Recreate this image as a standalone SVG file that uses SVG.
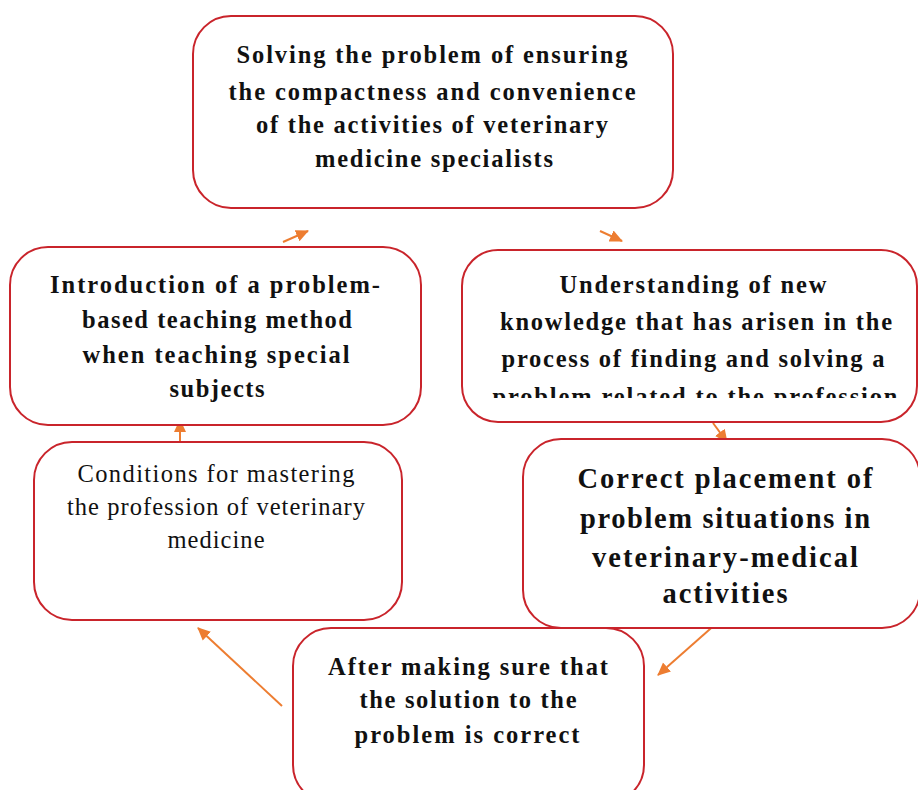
<svg xmlns="http://www.w3.org/2000/svg" width="918" height="790" viewBox="0 0 918 790">
<style>
.box{fill:#fff;stroke:#c9242b;stroke-width:2}
.t{font-family:"Liberation Serif","Times New Roman",serif;font-weight:bold;font-size:24.5px;fill:#111;text-anchor:middle}
.r{font-weight:normal}
.big{font-size:28.5px}
.c{stroke:#ed7d31;stroke-width:2;fill:none}
</style>
<defs>
<marker id="ah" markerUnits="userSpaceOnUse" markerWidth="14" markerHeight="14" refX="12" refY="7" orient="auto">
<path d="M0,1 L13,7 L0,13 Z" fill="#ed7d31"/>
</marker>
<clipPath id="clipR"><rect x="462" y="250" width="456" height="148"/></clipPath>
</defs>
<rect width="918" height="790" fill="#fff"/>
<g id="connectors">
<line class="c" x1="283" y1="242" x2="308" y2="231" marker-end="url(#ah)"/>
<line class="c" x1="600" y1="231" x2="622" y2="241" marker-end="url(#ah)"/>
<line class="c" x1="713" y1="423" x2="727" y2="442" marker-end="url(#ah)"/>
<line class="c" x1="180" y1="441" x2="180" y2="420" marker-end="url(#ah)"/>
<line class="c" x1="282" y1="706" x2="198" y2="628" marker-end="url(#ah)"/>
<line class="c" x1="718" y1="622" x2="658" y2="675" marker-end="url(#ah)"/>
</g>
<g id="n-top">
<rect class="box" x="193" y="16" width="480" height="192" rx="38"/>
<text class="t" x="432" y="63" textLength="391" lengthAdjust="spacing">Solving the problem of ensuring</text>
<text class="t" x="432" y="100" textLength="407" lengthAdjust="spacing">the compactness and convenience</text>
<text class="t" x="432" y="133" textLength="352" lengthAdjust="spacing">of the activities of veterinary</text>
<text class="t" x="434" y="167" textLength="238" lengthAdjust="spacing">medicine specialists</text>
</g>
<g id="n-intro">
<rect class="box" x="10" y="247" width="411" height="178" rx="38"/>
<text class="t" x="215" y="293" textLength="330" lengthAdjust="spacing">Introduction of a problem-</text>
<text class="t" x="217" y="328" textLength="270" lengthAdjust="spacing">based teaching method</text>
<text class="t" x="216" y="363" textLength="267" lengthAdjust="spacing">when teaching special</text>
<text class="t" x="217" y="397" textLength="95" lengthAdjust="spacing">subjects</text>
</g>
<g id="n-understanding">
<rect class="box" x="462" y="250" width="455" height="172" rx="36"/>
<g clip-path="url(#clipR)">
<text class="t" x="693" y="293" textLength="267" lengthAdjust="spacing">Understanding of new</text>
<text class="t" x="696" y="330" textLength="392" lengthAdjust="spacing">knowledge that has arisen in the</text>
<text class="t" x="693" y="367" textLength="383" lengthAdjust="spacing">process of finding and solving a</text>
<text class="t" x="695" y="405" textLength="405" lengthAdjust="spacing">problem related to the profession</text>
</g>
</g>
<g id="n-conditions">
<rect class="box" x="34" y="442" width="368" height="178" rx="38"/>
<text class="t r" x="216" y="482" textLength="277" lengthAdjust="spacing">Conditions for mastering</text>
<text class="t r" x="216" y="515" textLength="298" lengthAdjust="spacing">the profession of veterinary</text>
<text class="t r" x="216" y="548" textLength="97" lengthAdjust="spacing">medicine</text>
</g>
<g id="n-correct">
<rect class="box" x="523" y="439" width="397" height="189" rx="38"/>
<text class="t big" x="725" y="488" textLength="295" lengthAdjust="spacing">Correct placement of</text>
<text class="t big" x="725" y="528" textLength="290" lengthAdjust="spacing">problem situations in</text>
<text class="t big" x="725" y="567" textLength="266" lengthAdjust="spacing">veterinary-medical</text>
<text class="t big" x="725" y="603" textLength="125" lengthAdjust="spacing">activities</text>
</g>
<g id="n-after">
<rect class="box" x="293" y="628" width="351" height="175" rx="38"/>
<text class="t" x="468" y="675" textLength="280" lengthAdjust="spacing">After making sure that</text>
<text class="t" x="468" y="708" textLength="217" lengthAdjust="spacing">the solution to the</text>
<text class="t" x="467" y="743" textLength="225" lengthAdjust="spacing">problem is correct</text>
</g>
</svg>
